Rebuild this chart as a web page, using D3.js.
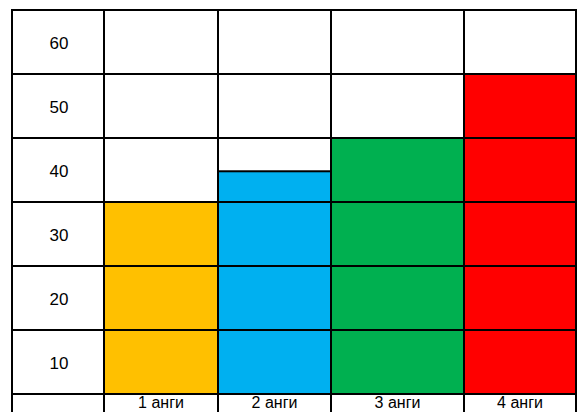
<!DOCTYPE html>
<html><head><meta charset="utf-8">
<script src="https://cdn.jsdelivr.net/npm/d3@7"></script>
<style>html,body{margin:0;padding:0;background:#fff;overflow:hidden}</style>
</head><body>
<svg id="c" width="578" height="412"></svg>
<script>
const categories = ["1 анги", "2 анги", "3 анги", "4 анги"];
const values = [30, 34.8, 40, 50];
const colors = ["#FFC000", "#00B0F0", "#00B050", "#FF0000"];
const tickValues = [10, 20, 30, 40, 50, 60];

(function () {
const svg = d3.select("#c");
const gLeft = 12, labelColRight = 104, gRight = 576, gTop = 10, gBottom = 394;
const colEdges = [labelColRight, 218, 331, 464, gRight];
const x = d3.scaleLinear().domain([0, 1, 2, 3, 4]).range(colEdges);
const y = d3.scaleLinear().domain([0, 60]).range([gBottom, gTop]);
const font = "'Liberation Sans', Arial, sans-serif";

// bars
svg.selectAll("rect.bar").data(values).join("rect")
  .attr("class", "bar")
  .attr("x", (d, i) => x(i))
  .attr("width", (d, i) => x(i + 1) - x(i))
  .attr("y", d => y(d))
  .attr("height", d => y(0) - y(d))
  .attr("fill", (d, i) => colors[i])
  .attr("stroke", "#000").attr("stroke-width", 2);

// horizontal grid lines
svg.selectAll("line.h").data([0].concat(tickValues)).join("line")
  .attr("class", "h")
  .attr("x1", gLeft).attr("x2", gRight)
  .attr("y1", d => y(d)).attr("y2", d => y(d))
  .attr("stroke", "#000").attr("stroke-width", 2);

// vertical grid lines
svg.selectAll("line.v").data([gLeft].concat(colEdges)).join("line")
  .attr("class", "v")
  .attr("x1", d => d).attr("x2", d => d)
  .attr("y1", gTop - 1).attr("y2", 412)
  .attr("stroke", "#000").attr("stroke-width", 2);

// row labels
svg.selectAll("text.t").data(tickValues).join("text")
  .attr("class", "t")
  .attr("x", (gLeft + labelColRight) / 2 + 1)
  .attr("y", d => y(d - 5) + 1)
  .attr("text-anchor", "middle")
  .attr("dominant-baseline", "central")
  .attr("font-family", font).attr("font-size", 17)
  .attr("fill", "#000")
  .text(d => d);

// category labels
svg.selectAll("text.cat").data(categories).join("text")
  .attr("class", "cat")
  .attr("x", (d, i) => (x(i) + x(i + 1)) / 2)
  .attr("y", gBottom + 14)
  .attr("text-anchor", "middle")
  .attr("font-family", font).attr("font-size", 16)
  .attr("fill", "#000")
  .text(d => d);
})();
</script>
</body></html>
